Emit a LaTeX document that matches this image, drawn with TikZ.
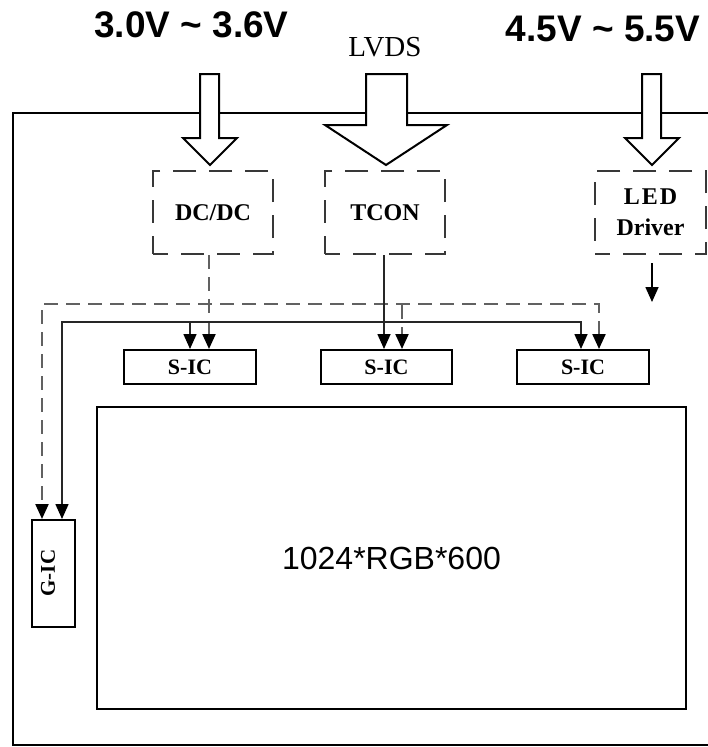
\documentclass[tikz,border=0pt]{standalone}
\usepackage{fontspec}
\setmainfont{Liberation Serif}
\newfontfamily\arialf{Liberation Sans}
\usetikzlibrary{arrows.meta}
\begin{document}
\begin{tikzpicture}[x=1pt,y=-1pt,
  dbox/.style={draw=black!78, line width=2.4pt, dash pattern=on 23pt off 13pt, dash phase=8pt,
    inner sep=0pt, align=center, font=\bfseries\fontsize{24}{31}\selectfont},
  sbox/.style={draw=black, line width=2pt, inner sep=0pt, fill=white},
  dconn/.style={draw=black!62, line width=2.2pt, dash pattern=on 14pt off 8pt},
  sconn/.style={draw=black!85, line width=1.6pt},
  tip/.style={-{Triangle[width=13pt,length=15pt,black]}},
  tips/.style={{Triangle[width=13pt,length=15pt,black]}-{Triangle[width=13pt,length=15pt,black]}},
  blockarrow/.style={draw=black, line width=2pt, fill=white, line join=miter},
  title/.style={font=\arialf\bfseries\fontsize{37}{44}\selectfont}]
\useasboundingbox (0,0) rectangle (708,747);
\clip (0,0) rectangle (708,747);
\fill[white] (0,0) rectangle (708,747);

% outer frame
\draw[line width=2pt] (13,113) rectangle (730,745);

% titles
\node[title] (v33) at (191.5,25) {3.0V \textasciitilde{} 3.6V};
\node[title] (v55) at (603,29) {4.5V \textasciitilde{} 5.5V};
\node[font=\fontsize{29}{35}\selectfont] (lvds) at (385,47) {LVDS};

% block arrows
\draw[blockarrow] (200,74) -- (219,74) -- (219,138) -- (237,138) -- (210,165) -- (183,138) -- (200,138) -- cycle;
\draw[blockarrow] (366,74) -- (407,74) -- (407,125) -- (447,125) -- (386,165) -- (325,125) -- (366,125) -- cycle;
\draw[blockarrow] (642,74) -- (661,74) -- (661,138) -- (679,138) -- (652,165) -- (625,138) -- (642,138) -- cycle;

% dashed blocks
\node[dbox, minimum width=120pt, minimum height=83pt] (dcdc) at (213,212.5) {DC/DC};
\node[dbox, minimum width=120pt, minimum height=83pt] (tcon) at (385,212.5) {TCON};
\node[dbox, minimum width=111pt, minimum height=83pt] (led) at (650.5,212.5) {\addfontfeatures{LetterSpace=8}LED\\Driver};

% source ICs
\node[sbox, minimum width=132pt, minimum height=34pt, font=\bfseries\fontsize{22}{26}\selectfont] (sic1) at (190,367) {S-IC};
\node[sbox, minimum width=131pt, minimum height=34pt, font=\bfseries\fontsize{22}{26}\selectfont] (sic2) at (386.5,367) {S-IC};
\node[sbox, minimum width=132pt, minimum height=34pt, font=\bfseries\fontsize{22}{26}\selectfont] (sic3) at (583,367) {S-IC};

% gate IC
\node[sbox, minimum width=43pt, minimum height=107pt] (gic) at (53.5,573.5) {};
\node[rotate=90, font=\bfseries\fontsize{21}{24}\selectfont] (gict) at (48,573) {G-IC};

% panel
\node[sbox, minimum width=589pt, minimum height=302pt, font=\arialf\fontsize{32}{38}\selectfont] (panel) at (391.5,558) {1024*RGB*600};

% power (dashed) connections
\draw[dconn, tip] ([xshift=-4pt]dcdc.south) -- ([xshift=19pt]sic1.north);
\draw[dconn, tips] ([xshift=16pt]sic3.north) -- ++(0,-45) -| ([xshift=-11.5pt]gic.north);
\coordinate (dj) at (402,305);
\draw[dconn, tip] (dj) -- ([xshift=15.5pt]sic2.north);

% signal (solid) connections
\draw[sconn, tips] ([xshift=-2pt]sic3.north) -- ++(0,-27) -| ([xshift=8.5pt]gic.north);
\coordinate (sj) at (190,323);
\draw[sconn, tip] (sj) -- (sic1.north);
\draw[sconn, tip] ([xshift=-1pt]tcon.south) -- ([xshift=-2.5pt]sic2.north);

% LED driver output
\coordinate (ledout) at (652,302);
\draw[sconn, black, tip] ([xshift=1.5pt,yshift=-8pt]led.south) -- (ledout);
\end{tikzpicture}
\end{document}
